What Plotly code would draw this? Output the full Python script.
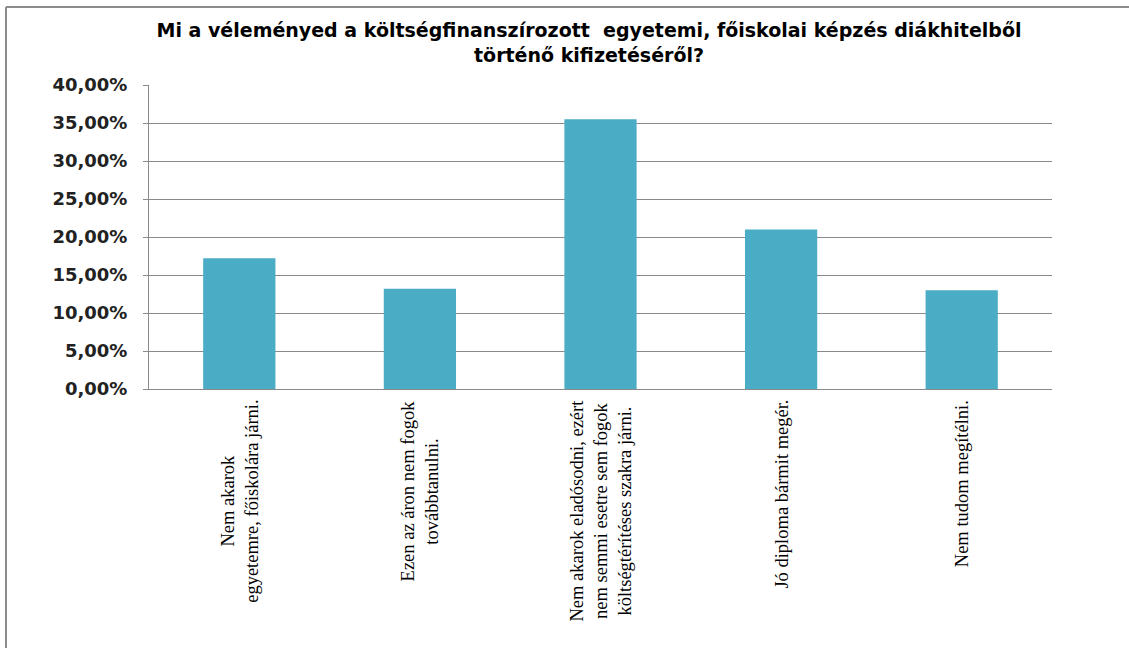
import plotly.graph_objects as go

# ---- data ----
categories = [
    "Nem akarok<br>egyetemre, főiskolára járni.",
    "Ezen az áron nem fogok<br>továbbtanulni.",
    "Nem akarok eladósodni, ezért<br>nem semmi esetre sem fogok<br>költségtérítéses szakra járni.",
    "Jó diploma bármit megér.",
    "Nem tudom megítélni.",
]
values = [0.172, 0.132, 0.355, 0.210, 0.130]
y_tickvals = [0.0, 0.05, 0.10, 0.15, 0.20, 0.25, 0.30, 0.35, 0.40]
y_ticktext = ["0,00%", "5,00%", "10,00%", "15,00%", "20,00%", "25,00%", "30,00%", "35,00%", "40,00%"]
title_text = ("Mi a véleményed a költségfinanszírozott  egyetemi, főiskolai képzés diákhitelből"
              "<br>történő kifizetéséről?")

# ---- layout constants ----
W, H = 1129, 648
ML, MR, MT, MB = 149, 77, 85, 259
BAR_COLOR = "#4BACC6"
GRID = "#8a8a8a"
x_idx = list(range(len(categories)))

def px_to_paper_x(px):
    return (px - ML) / (W - ML - MR)

def px_to_paper_y(py):
    return (H - MB - py) / (H - MT - MB)

fig = go.Figure()
fig.add_trace(go.Bar(
    x=x_idx, y=values, marker=dict(color=BAR_COLOR, line=dict(width=0)),
    width=0.4, hoverinfo="y",
))

annotations = []
for i, cat in enumerate(categories):
    annotations.append(dict(
        x=i, xref="x", y=px_to_paper_y(398), yref="paper",
        text=cat, textangle=-90, showarrow=False,
        xanchor="center", yanchor="top", align="center",
        font=dict(family="Liberation Serif", size=18.5, color="#000000"),
    ))

bx = px_to_paper_x(6)
by = px_to_paper_y(7)
shapes = [
    dict(type="line", xref="paper", yref="paper", x0=bx, x1=bx, y0=px_to_paper_y(H + 5), y1=by,
         line=dict(color="#8c8c8c", width=2)),
    dict(type="line", xref="paper", yref="paper", x0=bx, x1=px_to_paper_x(W + 5), y0=by, y1=by,
         line=dict(color="#8c8c8c", width=2)),
]

fig.update_layout(
    width=W, height=H, autosize=False,
    margin=dict(l=ML, r=MR, t=MT, b=MB, pad=0),
    paper_bgcolor="white", plot_bgcolor="white",
    showlegend=False,
    title=dict(text=title_text, x=px_to_paper_x(589), xref="paper", xanchor="center",
               y=1 - 37 / H, yanchor="middle",
               font=dict(family="DejaVu Sans", size=19, color="#000000", weight="bold")),
    xaxis=dict(range=[-0.5, len(categories) - 0.5], showticklabels=False, showgrid=False,
               zeroline=False, showline=True, linecolor=GRID, linewidth=1, ticks=""),
    yaxis=dict(range=[0, 0.40], tickvals=y_tickvals, ticktext=y_ticktext,
               showgrid=True, gridcolor=GRID, gridwidth=1, zeroline=False,
               showline=True, linecolor=GRID, linewidth=1,
               ticks="outside", ticklen=5, tickcolor=GRID, ticklabelstandoff=12,
               tickfont=dict(family="DejaVu Sans", size=18, color="#222222", weight="bold")),
    annotations=annotations,
    shapes=shapes,
    bargap=0.6,
)

fig.write_html("out.html", config={"displayModeBar": False},
               post_script="document.body.style.margin='0';")
